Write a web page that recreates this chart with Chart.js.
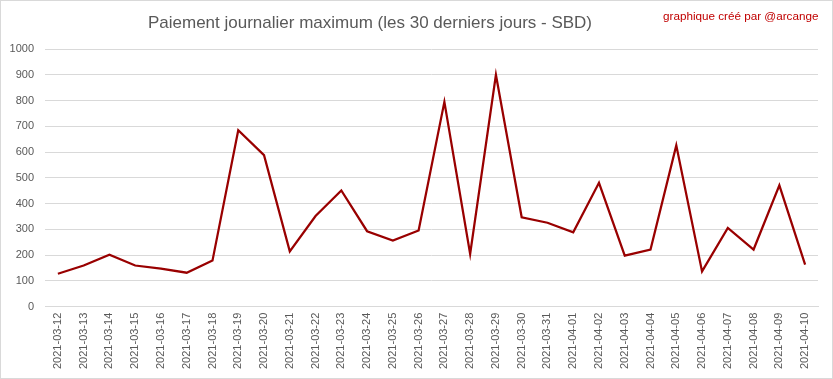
<!DOCTYPE html>
<html>
<head>
<meta charset="utf-8">
<script src="https://cdn.jsdelivr.net/npm/chart.js@4/dist/chart.umd.min.js"></script>
<style>
  html, body { margin: 0; padding: 0; background: #fff; }
  #wrap { position: relative; width: 833px; height: 379px; box-sizing: border-box; border: 1px solid #d9d9d9; }
  canvas { display: block; }
</style>
</head>
<body>
<div id="wrap"><canvas id="c" width="831" height="377"></canvas></div>
<script>
const titleText = "Paiement journalier maximum (les 30 derniers jours - SBD)";
const creditText = "graphique créé par @arcange";
const dates = [
  "2021-03-12","2021-03-13","2021-03-14","2021-03-15","2021-03-16","2021-03-17","2021-03-18",
  "2021-03-19","2021-03-20","2021-03-21","2021-03-22","2021-03-23","2021-03-24","2021-03-25",
  "2021-03-26","2021-03-27","2021-03-28","2021-03-29","2021-03-30","2021-03-31","2021-04-01",
  "2021-04-02","2021-04-03","2021-04-04","2021-04-05","2021-04-06","2021-04-07","2021-04-08",
  "2021-04-09","2021-04-10"
];
const maxPayout = [
  128, 160, 202, 160, 148, 132, 179, 685, 588, 215,
  352, 451, 293, 257, 296, 795, 205, 900, 347, 326,
  289, 481, 198, 222, 626, 137, 306, 222, 471, 163
];
const yMin = 0, yMax = 1000, yStep = 100;

const textPlugin = {
  id: 'textPlugin',
  afterDraw(chart) {
    const ctx = chart.ctx;
    ctx.save();
    ctx.textBaseline = 'middle';
    ctx.textAlign = 'center';
    ctx.fillStyle = '#595959';
    ctx.font = '17px "Liberation Sans", sans-serif';
    ctx.fillText(titleText, 369, 22);
    ctx.textAlign = 'left';
    ctx.fillStyle = '#c00000';
    ctx.font = '11.7px "Liberation Sans", sans-serif';
    ctx.fillText(creditText, 662, 16);
    ctx.restore();
  }
};

new Chart(document.getElementById('c'), {
  type: 'line',
  data: {
    labels: dates,
    datasets: [{
      data: maxPayout,
      borderColor: '#990000',
      borderWidth: 2.25,
      pointRadius: 0,
      tension: 0,
      fill: false
    }]
  },
  options: {
    responsive: false,
    animation: false,
    layout: { padding: { top: 48, left: 8, right: 14, bottom: 3 } },
    plugins: { legend: { display: false }, title: { display: false }, tooltip: { enabled: false } },
    scales: {
      x: {
        offset: true,
        grid: { display: false, drawTicks: false },
        border: { display: true, color: '#d9d9d9' },
        ticks: {
          color: '#595959',
          font: { family: '"Liberation Sans", Arial, sans-serif', size: 11 },
          minRotation: 90, maxRotation: 90, autoSkip: false, padding: 6
        }
      },
      y: {
        min: yMin, max: yMax,
        afterFit: (scale) => { scale.width = 36; },
        grid: { color: '#d9d9d9', drawTicks: false },
        border: { display: false },
        ticks: {
          stepSize: yStep,
          color: '#595959',
          font: { family: '"Liberation Sans", Arial, sans-serif', size: 11 },
          padding: 11,
          callback: (v) => String(v)
        }
      }
    }
  },
  plugins: [textPlugin]
});
</script>
</body>
</html>
